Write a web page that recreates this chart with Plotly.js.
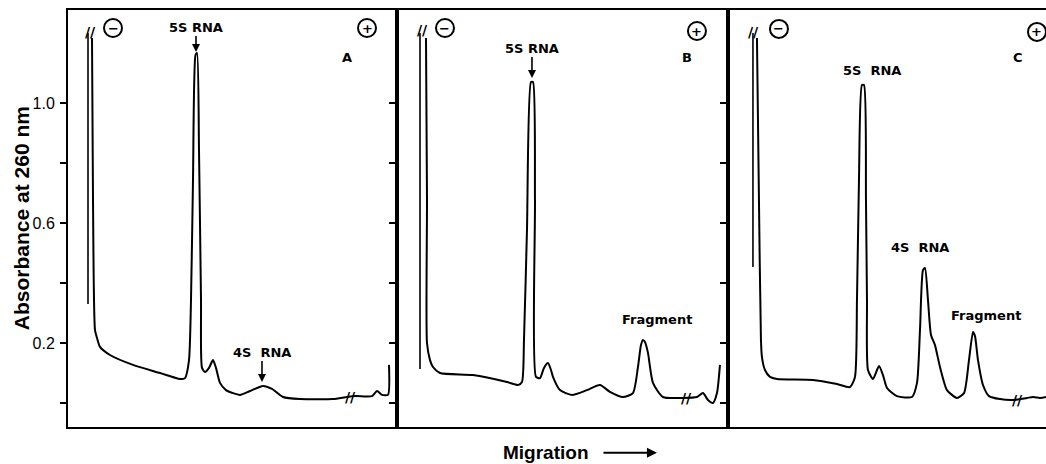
<!DOCTYPE html>
<html>
<head>
<meta charset="utf-8">
<script src="https://cdn.plot.ly/plotly-3.0.1.min.js"></script>
<style>html,body{margin:0;padding:0;background:#fff;}#chart{width:1046px;height:464px;}</style>
</head>
<body>
<div id="chart"></div>
<script>
// ---- Data (migration distance in arbitrary units within each panel; absorbance at 260 nm) ----
// Panel A
const migA = [24,25,27,29,32,42,65,92,112,117,121,123,125,127.5,129,131,133,134,137,141,145,148,152,158,165,172,182,195,204,215,232,265,279,288,304,309,314,320,321];
const absA = [1.217,0.677,0.243,0.217,0.187,0.160,0.127,0.100,0.080,0.083,0.143,0.343,0.743,1.160,1.167,0.843,0.343,0.117,0.103,0.117,0.143,0.117,0.067,0.043,0.033,0.027,0.040,0.057,0.047,0.020,0.013,0.013,0.020,0.023,0.023,0.040,0.027,0.027,0.127];
const wellA_x = [20,20];
const wellA_y = [1.233,0.330];
// Panel B
const migB = [29,30,30,33,36,43,76,110,121,125,127,130,134,136,138,139,143,147,151,154,156,163,175,190,203,213,226,236,241,244,246,248,251,256,266,286,300,306,311,316,320,323];
const absB = [1.217,0.677,0.200,0.143,0.120,0.100,0.093,0.070,0.060,0.070,0.210,0.577,1.070,1.070,0.677,0.087,0.083,0.117,0.133,0.110,0.087,0.043,0.027,0.043,0.060,0.037,0.020,0.033,0.120,0.193,0.210,0.203,0.167,0.067,0.020,0.017,0.020,0.033,0.010,0.000,0.033,0.127];
const wellB_x = [23,23];
const wellB_y = [1.233,0.113];
// Panel C
const migC = [29,31,33,34,37,42,49,85,109,122,127,129,131,134,136,138,139,140,145,151,155,159,169,184,189,192,195,197,200,203,207,212,219,229,236,241,245,247,250,255,261,272,285,299,305,312,318];
const absC = [1.217,0.677,0.210,0.153,0.110,0.087,0.080,0.077,0.063,0.053,0.087,0.343,0.743,1.060,1.060,0.677,0.343,0.110,0.080,0.123,0.093,0.050,0.023,0.020,0.067,0.243,0.443,0.450,0.343,0.227,0.193,0.120,0.043,0.017,0.033,0.143,0.237,0.223,0.143,0.060,0.023,0.013,0.010,0.017,0.020,0.017,0.020];
const wellC_x = [25,25];
const wellC_y = [1.233,0.453];
// Axis ticks
const yTickVals = [0,0.2,0.4,0.6,0.8,1.0];
const yTickText = ['','0.2','','0.6','','1.0'];

// ---- Traces ----
const ln = {color:'#000', width:2};
const lnThin = {color:'#000', width:1.6};
const traces = [
  {x:migA, y:absA, xaxis:'x', yaxis:'y', mode:'lines', line:ln},
  {x:wellA_x, y:wellA_y, xaxis:'x', yaxis:'y', mode:'lines', line:lnThin},
  {x:migB, y:absB, xaxis:'x2', yaxis:'y2', mode:'lines', line:ln},
  {x:wellB_x, y:wellB_y, xaxis:'x2', yaxis:'y2', mode:'lines', line:lnThin},
  {x:migC, y:absC, xaxis:'x3', yaxis:'y3', mode:'lines', line:ln},
  {x:wellC_x, y:wellC_y, xaxis:'x3', yaxis:'y3', mode:'lines', line:lnThin}
];
traces.forEach(t => { t.line = Object.assign({shape:'spline', smoothing:0.6}, t.line); t.hoverinfo='skip'; });

const xBase = {showline:true, mirror:true, linewidth:2, linecolor:'#000', ticks:'', showticklabels:false, showgrid:false, zeroline:false, fixedrange:true};
const yBase = {range:[-0.08,1.31], showline:true, linewidth:2, linecolor:'#000', ticks:'outside', ticklen:6, tickwidth:1.5, tickcolor:'#000',
  tickvals:yTickVals, ticktext:yTickText, showgrid:false, zeroline:false, fixedrange:true, ticklabelstandoff:2,
  tickfont:{family:'Liberation Sans, Arial, sans-serif', size:16, color:'#000'}};

const lblFont = {family:'DejaVu Sans, sans-serif', size:13, color:'#000', weight:'bold'};
const signFont = {family:'DejaVu Sans, sans-serif', size:13, color:'#000', weight:'bold'};
function txt(xr, yr, x, y, text, font, extra){ return Object.assign({xref:xr, yref:yr, x:x, y:y, text:text, showarrow:false, xanchor:'center', yanchor:'middle', font:font||lblFont}, extra||{}); }
function arr(xr, yr, x, y, text, ay){ return {xref:xr, yref:yr, x:x, y:y, text:text, showarrow:true, ax:0, ay:ay, arrowhead:2, arrowsize:1, arrowwidth:1.6, arrowcolor:'#000', standoff:0, font:lblFont}; }
const brk = {family:'DejaVu Sans, sans-serif', size:14, color:'#000', weight:'bold'};

// electrode symbols: [xref, yref, x, y, sign]
const electrodes = [
  ['x','y',45,1.25,'−'], ['x','y',299,1.25,'+'],
  ['x2','y2',48,1.25,'−'], ['x2','y2',300,1.24,'+'],
  ['x3','y3',51,1.247,'−'], ['x3','y3',309,1.237,'+']
];
const shapes = electrodes.map(e => ({type:'circle', xref:e[0], yref:e[1], xsizemode:'pixel', ysizemode:'pixel', xanchor:e[2], yanchor:e[3],
  x0:-9, x1:9, y0:-9, y1:9, line:{color:'#000', width:2}, fillcolor:'rgba(0,0,0,0)'}));

const annotations = [
  ...electrodes.map(e => txt(e[0], e[1], e[2], e[3], e[4], signFont)),
  // Panel A
  arr('x','y',128,1.17,'5S RNA',-25),
  txt('x','y',279,1.153,'A'),
  arr('x','y',194,0.07,'4S  RNA',-30),
  txt('x','y',22,1.237,'//',brk), txt('x','y',282,0.02,'//',brk),
  // Panel B
  arr('x2','y2',135,1.083,'5S RNA',-30),
  txt('x2','y2',290,1.153,'B'),
  txt('x2','y2',260,0.28,'Fragment'),
  txt('x2','y2',26,1.243,'//',brk), txt('x2','y2',290,0.017,'//',brk),
  // Panel C
  txt('x3','y3',144,1.11,'5S  RNA'),
  txt('x3','y3',290,1.153,'C'),
  txt('x3','y3',192,0.517,'4S  RNA'),
  txt('x3','y3',258,0.293,'Fragment'),
  txt('x3','y3',26,1.237,'//',brk), txt('x3','y3',290,0.01,'//',brk),
  // Axis titles
  {xref:'paper', yref:'paper', x:-0.048, y:0.501, xanchor:'center', yanchor:'middle', text:'<b>Absorbance at 260 nm</b>', textangle:-90, showarrow:false,
   font:{family:'Liberation Sans, Arial, sans-serif', size:21, color:'#000'}},
  {xref:'paper', yref:'paper', x:0.4888, y:-0.06, xanchor:'center', yanchor:'middle', text:'<b>Migration</b>', showarrow:false,
   font:{family:'Liberation Sans, Arial, sans-serif', size:19, color:'#000'}},
  {xref:'paper', yref:'paper', x:0.6022, y:-0.062, text:'', showarrow:true, ax:-55, ay:0, arrowhead:2, arrowsize:1, arrowwidth:2, arrowcolor:'#000', standoff:0}
];

const layout = {
  width:1046, height:464, margin:{l:68, r:0, t:10, b:37, pad:0},
  paper_bgcolor:'#fff', plot_bgcolor:'#fff', showlegend:false, hovermode:false,
  xaxis:Object.assign({}, xBase, {domain:[0,0.3364], range:[0,329], anchor:'y'}),
  xaxis2:Object.assign({}, xBase, {domain:[0.3364,0.6748], range:[0,331], anchor:'y2'}),
  xaxis3:Object.assign({}, xBase, {domain:[0.6748,1], range:[0,318], anchor:'y3'}),
  yaxis:Object.assign({}, yBase, {anchor:'x', mirror:true}),
  yaxis2:Object.assign({}, yBase, {anchor:'x2', mirror:true, showticklabels:false}),
  yaxis3:Object.assign({}, yBase, {anchor:'x3', showticklabels:false}),
  shapes:shapes,
  annotations:annotations
};
Plotly.newPlot('chart', traces, layout, {staticPlot:true, displayModeBar:false});
</script>
</body>
</html>
